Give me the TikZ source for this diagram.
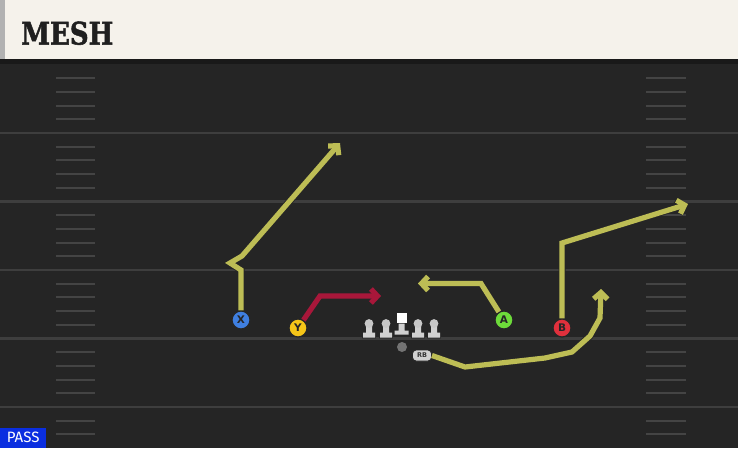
\documentclass[tikz,border=0pt]{standalone}
\usepackage{fontspec}
\setmainfont{DejaVu Sans}
\newfontfamily\slabfont{DejaVu Serif}[BoldFeatures={FakeBold=1.6}]
\newfontfamily\tagfont{Fira Sans}
\usetikzlibrary{arrows.meta}
\definecolor{fieldc}{HTML}{252525}
\definecolor{yardc}{HTML}{3E3E3E}
\definecolor{hashc}{HTML}{444444}
\definecolor{creamc}{HTML}{F5F2EB}
\definecolor{routec}{HTML}{BDBD55}
\definecolor{redroute}{HTML}{A8173A}
\definecolor{xblue}{HTML}{3F7FE0}
\definecolor{yyellow}{HTML}{F5C518}
\definecolor{agreen}{HTML}{6DDB3A}
\definecolor{bred}{HTML}{E0303C}
\definecolor{linec}{HTML}{D0D0D0}
\definecolor{passblue}{HTML}{0A2EE0}
\tikzset{
  yard/.style={draw=yardc, line width=2.2pt},
  hashmark/.style={draw=hashc, line width=2pt},
  player/.style={circle, draw=black!85, line width=1.2pt, minimum size=18pt, inner sep=0pt,
    font=\bfseries\fontsize{10.5}{10.5}\selectfont, text=black!85},
  route/.style={draw=routec, line width=5.2pt, line join=miter,
    -{Straight Barb[length=6.5pt,width=14pt]},
    preaction={draw=black!85, line width=7pt, -{Straight Barb[length=6.5pt,width=14pt]}}},
  redr/.style={route, draw=redroute},
  lmshape/.style={fill=linec},
}
\begin{document}
\begin{tikzpicture}[x=1pt,y=-1pt]
\useasboundingbox (0,0) rectangle (738,448);
\fill[fieldc] (0,0) rectangle (738,448);
% yard lines
\foreach \y in {133,201.5,270,338.5,407} \draw[yard] (0,\y) -- (738,\y);
% hash marks
\foreach \b in {64.5,133,201.5,270,338.5,407} {
  \foreach \k in {1,2,3,4} {
    \pgfmathsetmacro{\yy}{\b+13.7*\k}
    \ifdim\yy pt<446pt
      \draw[hashmark] (56,\yy) -- (95,\yy);
      \draw[hashmark] (646,\yy) -- (686,\yy);
    \fi
  }
}
% header
\fill[black!90] (0,58) rectangle (738,64);
\fill[creamc] (0,0) rectangle (738,59);
\fill[black!30] (0,0) rectangle (5,59);
\node[anchor=base west, inner sep=0pt, font=\slabfont\bfseries\fontsize{31}{31}\selectfont, text=black!88] (title) at (21,44.5) {\scalebox{0.84}[1]{MESH}};
% pass label
\node[fill=passblue, text=white, anchor=south west, inner sep=0pt, minimum width=46pt, minimum height=20pt,
  font=\tagfont\fontsize{15}{15}\selectfont] (pass) at (0,448) {PASS};
% players
\node[player, fill=xblue] (X) at (241,320) {X};
\node[player, fill=yyellow] (Y) at (298,328) {Y};
\node[player, fill=agreen] (A) at (504,320) {A};
\node[player, fill=bred] (B) at (562,328) {B};
\node[fill=linec, draw=black!85, line width=0.9pt, rounded corners=3.5pt, minimum width=19pt, minimum height=11pt,
  inner sep=0pt, font=\bfseries\fontsize{6.5}{6.5}\selectfont, text=black!80] (RB) at (422,355.5) {RB};
\node[circle, fill=black!55, minimum size=10pt, inner sep=0pt] (QB) at (402,347) {};
% linemen
\foreach \x in {369,386,418,434} {
  \path[draw=black!85, line width=1.8pt, lmshape] (\x-6,332.5) rectangle (\x+6,337.5)
    (\x-3,325) rectangle (\x+3,333) (\x,323.5) circle[radius=4.4];
  \fill[linec] (\x-6,332.5) rectangle (\x+6,337.5) (\x-3,325) rectangle (\x+3,334);
  \fill[black!22!white] (\x,323.5) circle[radius=4.4];
}
\path[draw=black!85, line width=1.8pt, fill=white] (396.5,312.5) rectangle (406.5,323);
\path[draw=black!85, line width=1.8pt, fill=linec] (398.5,323) rectangle (404.5,331) (394.5,330.5) rectangle (408.5,334.5);
\fill[white] (396.5,312.5) rectangle (406.5,323);
\fill[linec] (398.5,323.5) rectangle (404.5,332) (394.5,330.5) rectangle (408.5,334.5);
% routes
\draw[route] (X) -- (241,270) -- (230,263) -- (242,256) -- (340,143);
\draw[redr] (Y) -- (320,296) -- (381,296);
\draw[route] (A) -- (481,283.5) -- (418,283.5);
\draw[route] (B) -- (562,243) -- (688,204);
\draw[route] (RB.east) -- (465,367) -- (545,358) -- (572,352) -- (590,336) -- (600,318) -- (601,289);
\end{tikzpicture}
\end{document}
